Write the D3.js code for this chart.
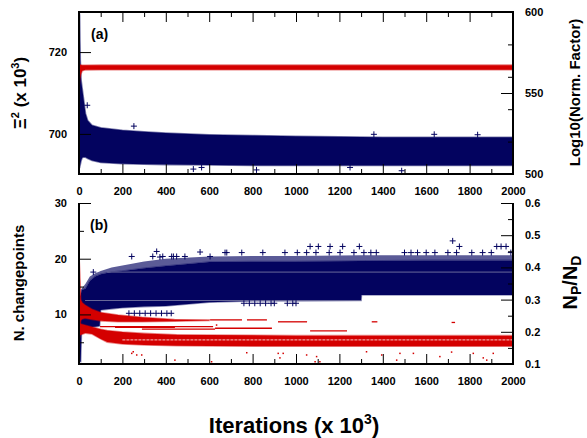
<!DOCTYPE html>
<html><head><meta charset="utf-8">
<script src="https://cdn.jsdelivr.net/npm/d3@7"></script>
<style>body{margin:0;background:#fff}svg{display:block}</style>
</head><body><svg id="c" width="587" height="438"></svg>
<script>
// ---------- tick values ----------
const iterTicks = [0,200,400,600,800,1000,1200,1400,1600,1800,2000];
const iterMinor = [100,300,500,700,900,1100,1300,1500,1700,1900];
const chiTicks = [700,720];
const normTicks = [500,550,600];
const normMinor = [520,540,560,580];
const cpTicks = [10,20,30];
const cpMinor = [5,15,25];
const ratioTicks = [0.1,0.2,0.3,0.4,0.5,0.6];
const ratioMinor = [0.15,0.25,0.35,0.45,0.55];

// ---------- panel (a): Xi^2 (blue, left axis) ----------
const chiIter = [0,3,6,10,15,20,30,40,60,100,200,300,400,600,800,1000,1400,2000];
const chiHigh = [730,729,718,713,711,709,705,703.3,702.1,701.5,700.9,700.5,700.2,699.8,699.6,699.4,699.2,699.2];
const chiLow  = [691.8,691.8,692.5,693.5,694.2,694.3,694.3,694.0,693.5,693.0,692.7,692.6,692.5,692.4,692.3,692.3,692.3,692.3];
const chiOutIter = [38,253,527,565,818,1249,1359,1487,1637,1837];
const chiOutVal  = [707,701.9,691.4,691.8,691.2,691.8,699.9,691.0,699.9,699.8];

// ---------- panel (a): Log10(Norm. Factor) (red, right axis) ----------
const normIter = [0,3,8,15,30,100,2000];
const normHigh = [567.3,567.4,567.3,567.1,567.1,567.2,567.2];
const normLow  = [553,558,561.5,563.8,564.3,564.4,564.4];

// ---------- panel (b): N. changepoints (blue, left axis) ----------
const cpIter = [0,8,12,30,50,75,95,100,150,200,300,400,600,800,1000,1300,1302,1600,2000];
const cpHigh = [13.0,13.5,14.4,14.6,16.0,16.8,17.1,17.2,17.6,17.8,18.3,18.7,19.4,19.5,19.5,19.6,19.6,19.7,19.7];
const cpLow  = [1.5,1.5,7.6,7.6,7.7,7.8,7.9,10.8,11.0,11.2,11.4,11.5,12.2,12.4,12.4,12.5,13.5,13.5,13.5];
const cpSparseHigh = [13.0,13.5,14.6,15.5,16.8,17.4,17.7,17.8,18.4,18.8,19.5,20.0,20.4,20.5,20.5,20.6,20.6,20.6,20.6];
const cpOutIter = [66,243,340,358,373,386,427,435,450,488,558,604,673,681,750,847,949,1006,1049,1065,1092,1103,1153,1157,1203,1215,1267,1292,1313,1345,1370,1500,1530,1560,1600,1640,1700,1722,1740,1753,1810,1860,1900,1925,1945,1968,1990,
  230,255,280,305,330,355,380,405,425,
  760,785,810,835,860,885,900,960,985,1000];
const cpOutVal  = [17.6,20.4,20.4,21.3,20.3,20.4,20.4,20.4,20.4,20.4,21.2,20.4,21.1,21.1,21.1,21.1,21.1,21.1,21.1,22.2,21.1,22.2,21.1,22.2,21.1,22.2,21.1,22.2,21.1,21.1,21.1,21.1,21.1,21.1,21.1,21.1,21.1,23.2,21.1,22.2,21.1,21.1,21.1,22.2,22.2,22.2,21.1,
  10.2,10.2,10.2,10.2,10.2,10.2,10.2,10.2,10.2,
  12.0,12.0,12.0,12.0,12.0,12.0,12.0,12.0,12.0,12.0];

// ---------- panel (b): N_P/N_D (red, right axis) ----------
const ratioIter = [0,5,30,60,100,130,200,300,450,600,1000,1500,2000];
const ratioHigh = [0.225,0.225,0.220,0.215,0.208,0.204,0.199,0.195,0.191,0.190,0.188,0.188,0.188];
const ratioLow  = [0.175,0.190,0.196,0.193,0.178,0.168,0.162,0.159,0.157,0.156,0.155,0.155,0.155];
const ratioUpIter = [0,4,8,15,28,60,100,180,290,440,600];
const ratioUpHigh = [0.433,0.38,0.30,0.29,0.283,0.270,0.260,0.252,0.245,0.238,0.237];
const ratioUpLow  = [0.175,0.215,0.235,0.240,0.242,0.238,0.234,0.231,0.231,0.233,0.235];
const dashStart = [604,774,917,1349,1717,627,1065,166,290,97];
const dashEnd   = [751,866,1051,1375,1733,889,1235,442,627,618];
const dashVal   = [0.237,0.237,0.231,0.231,0.229,0.211,0.203,0.214,0.208,0.216];
const dotIter = [243,250,266,289,442,611,634,773,918,926,941,1049,1088,1095,1110,1325,1395,1464,1479,1541,1663,1717,1817,1863,1879,1909];
const dotVal  = [0.133,0.138,0.128,0.128,0.112,0.107,0.221,0.135,0.133,0.119,0.133,0.128,0.107,0.123,0.107,0.138,0.128,0.112,0.133,0.133,0.123,0.137,0.133,0.119,0.112,0.133];

// ---------- drawing ----------
const NAVY = "#03035f", RED = "#d40000";
const FONT = "'Liberation Sans', Arial, Helvetica, sans-serif";
const svg = d3.select("#c");
const L = 79, R = 513;
const A = {top: 12, bottom: 174}, B = {top: 203, bottom: 364};

const x = d3.scaleLinear([0,2000],[L,R]);
const ya = d3.scaleLinear([690.2,729.8],[A.bottom,A.top]);
const yaR = d3.scaleLinear([500,600],[A.bottom,A.top]);
const yb = d3.scaleLinear([1.1,30],[B.bottom,B.top]);
const ybR = d3.scaleLinear([0.1,0.6],[B.bottom,B.top]);

const defs = svg.append("defs");
defs.append("clipPath").attr("id","ca").append("rect").attr("x",L).attr("y",A.top).attr("width",R-L).attr("height",A.bottom-A.top);
defs.append("clipPath").attr("id","cb").append("rect").attr("x",L).attr("y",B.top).attr("width",R-L).attr("height",B.bottom-B.top);

function band(g, xs, lo, hi, ys, fill, opacity, strokeOp){
  const d = xs.map((v,i)=>({x:v, lo:lo[i], hi:hi[i]}));
  const area = d3.area().x(p=>x(p.x)).y0(p=>ys(p.lo)).y1(p=>ys(p.hi));
  g.append("path").attr("d", area(d)).attr("fill", fill).attr("fill-opacity", opacity)
    .attr("stroke", fill).attr("stroke-opacity", strokeOp).attr("stroke-width", 1.6);
}
function crosses(g, xs, vs, ys, color){
  g.selectAll(null).data(xs.map((v,i)=>[v,vs[i]])).enter().append("path")
    .attr("transform", p=>`translate(${x(p[0])},${ys(p[1])})`)
    .attr("d","M-3,0H3M0,-3V3").attr("stroke",color).attr("stroke-width",1).attr("fill","none");
}

// Panel (a) data
const ga = svg.append("g").attr("clip-path","url(#ca)");
band(ga, chiIter, chiLow, chiHigh, ya, NAVY, 1, 0.5);
crosses(ga, chiOutIter, chiOutVal, ya, NAVY);
band(ga, normIter, normLow, normHigh, yaR, RED, 1, 0.5);

// Panel (b) data
const gb = svg.append("g").attr("clip-path","url(#cb)");
band(gb, cpIter, cpHigh, cpSparseHigh, yb, NAVY, 0.65, 0);
band(gb, cpIter, cpLow, cpHigh, yb, NAVY, 1, 0.4);
gb.append("line").attr("x1",x(130)).attr("x2",x(2000)).attr("y1",yb(17.6)).attr("y2",yb(17.6)).attr("stroke","#6a6a9a").attr("stroke-width",1);
gb.append("line").attr("x1",x(28)).attr("x2",x(1300)).attr("y1",yb(12.5)).attr("y2",yb(12.5)).attr("stroke","#6a6a9a").attr("stroke-width",1);
crosses(gb, cpOutIter, cpOutVal, yb, NAVY);
band(gb, ratioIter, ratioLow, ratioHigh, ybR, RED, 1, 0.45);
gb.append("line").attr("x1",x(200)).attr("x2",x(2000)).attr("y1",ybR(0.175)).attr("y2",ybR(0.175)).attr("stroke","#f2a0a0").attr("stroke-width",1.2).attr("stroke-dasharray","3,1");
band(gb, ratioUpIter, ratioUpLow, ratioUpHigh, ybR, RED, 1, 0.45);
gb.selectAll(null).data(dashStart.map((s,i)=>[s,dashEnd[i],dashVal[i]])).enter().append("line")
  .attr("x1",p=>x(p[0])).attr("x2",p=>x(p[1])).attr("y1",p=>ybR(p[2])).attr("y2",p=>ybR(p[2]))
  .attr("stroke",RED).attr("stroke-width",1.3);
gb.selectAll(null).data(dotIter.map((v,i)=>[v,dotVal[i]])).enter().append("rect")
  .attr("x",p=>x(p[0])-0.75).attr("y",p=>ybR(p[1])-0.75).attr("width",1.5).attr("height",1.5).attr("fill",RED);

// ---------- axes ----------
function styleAxis(g){
  g.select(".domain").remove();
  g.selectAll("line").attr("stroke","#000").attr("stroke-width",1);
  g.selectAll("text").attr("font-family",FONT).attr("font-weight","bold").attr("font-size","11px").attr("fill","#000");
}
function xAxes(yPos, withTop, topY){
  svg.append("g").attr("transform",`translate(0,${yPos})`)
    .call(d3.axisBottom(x).tickValues(iterTicks).tickSizeInner(-10).tickSizeOuter(0).tickPadding(13).tickFormat(d3.format("d"))).call(styleAxis);
  svg.append("g").attr("transform",`translate(0,${yPos})`)
    .call(d3.axisBottom(x).tickValues(iterMinor).tickSizeInner(-5).tickSizeOuter(0).tickFormat("")).call(styleAxis);
  if (withTop){
    svg.append("g").attr("transform",`translate(0,${topY})`)
      .call(d3.axisTop(x).tickValues(iterTicks.slice(1,-1)).tickSizeInner(-10).tickSizeOuter(0).tickFormat("")).call(styleAxis);
    svg.append("g").attr("transform",`translate(0,${topY})`)
      .call(d3.axisTop(x).tickValues(iterMinor).tickSizeInner(-5).tickSizeOuter(0).tickFormat("")).call(styleAxis);
  }
}
xAxes(A.bottom, true, A.top);
xAxes(B.bottom, false);

function yAxes(scale, ticks, minor, side, fmt){
  const ax = side === "left" ? d3.axisLeft : d3.axisRight;
  const xp = side === "left" ? L : R;
  svg.append("g").attr("transform",`translate(${xp},0)`)
    .call(ax(scale).tickValues(ticks).tickSizeInner(-12).tickSizeOuter(0).tickPadding(12).tickFormat(fmt)).call(styleAxis);
  if (minor.length)
    svg.append("g").attr("transform",`translate(${xp},0)`)
      .call(ax(scale).tickValues(minor).tickSizeInner(-5).tickSizeOuter(0).tickFormat("")).call(styleAxis);
}
yAxes(ya, chiTicks, [], "left", d3.format("d"));
yAxes(yaR, normTicks, normMinor, "right", d3.format("d"));
yAxes(yb, cpTicks, cpMinor, "left", d3.format("d"));
yAxes(ybR, ratioTicks, ratioMinor, "right", d3.format(".1f"));

// frames
const frame = svg.append("g").attr("stroke","#000").attr("stroke-width",2).attr("fill","none");
frame.append("rect").attr("x",L).attr("y",A.top).attr("width",R-L).attr("height",A.bottom-A.top);
frame.append("path").attr("d",`M${L},${B.top}V${B.bottom}H${R}V${B.top}`);

// ---------- text ----------
function txt(xp, yp, size, rot){
  return svg.append("text").attr("transform",`translate(${xp},${yp})${rot?" rotate(-90)":""}`)
    .attr("text-anchor","middle").attr("font-family",FONT).attr("font-weight","bold")
    .attr("font-size",size+"px").attr("fill","#000");
}
svg.append("text").attr("x",91).attr("y",39).attr("font-family",FONT).attr("font-weight","bold").attr("font-size","14px").text("(a)");
svg.append("text").attr("x",90).attr("y",230).attr("font-family",FONT).attr("font-weight","bold").attr("font-size","14px").text("(b)");

let t = txt(26, 93, 17, true);
t.append("tspan").text("Ξ");
t.append("tspan").attr("font-size","11px").attr("dy",-7).text("2");
t.append("tspan").attr("dy",7).text(" (x 10");
t.append("tspan").attr("font-size","11px").attr("dy",-7).text("3");
t.append("tspan").attr("dy",7).text(")");

txt(580, 92.5, 15, true).text("Log10(Norm. Factor)");
txt(24, 283, 15, true).text("N. changepoints");

t = txt(577, 282.5, 20, true);
t.append("tspan").text("N");
t.append("tspan").attr("font-size","14px").attr("dy",4).text("P");
t.append("tspan").attr("dy",-4).text("/N");
t.append("tspan").attr("font-size","14px").attr("dy",4).text("D");

t = txt(294, 433, 22, false);
t.append("tspan").text("Iterations (x 10");
t.append("tspan").attr("font-size","14px").attr("dy",-9).text("3");
t.append("tspan").attr("dy",9).text(")");
</script></body></html>
